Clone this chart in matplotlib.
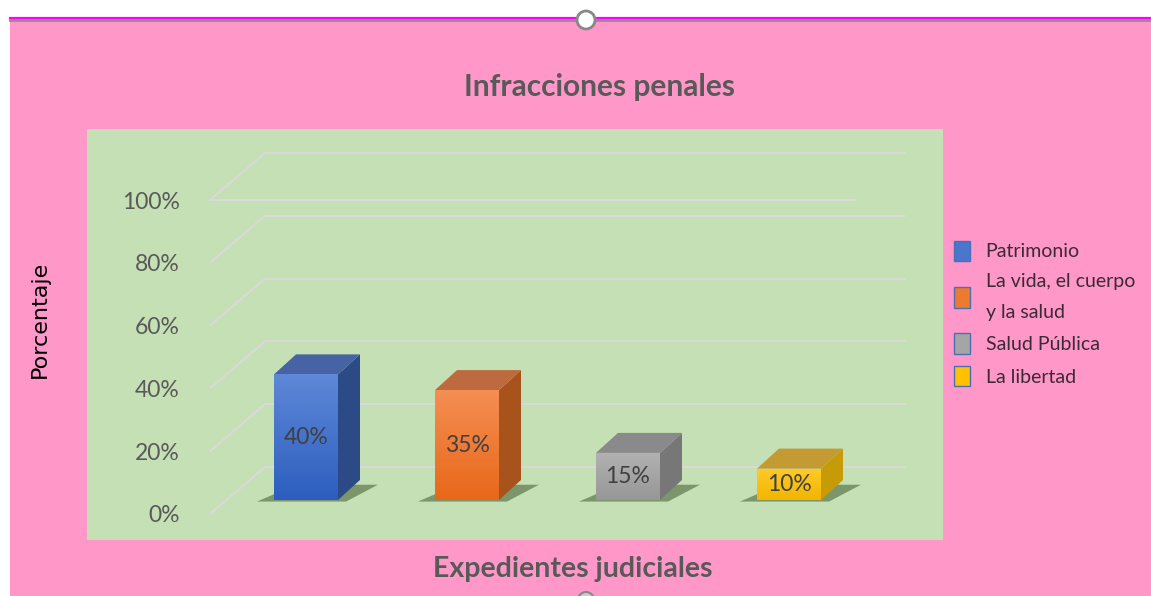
import matplotlib
matplotlib.use("Agg")
import numpy as np
import matplotlib.pyplot as plt
from matplotlib.patches import Polygon, Rectangle, Patch, Ellipse
from matplotlib.lines import Line2D
from matplotlib.colors import LinearSegmentedColormap

# ---------------- data ----------------
categories = ["Patrimonio", "La vida, el cuerpo\ny la salud", "Salud Pública", "La libertad"]
values = [40, 35, 15, 10]
value_labels = ["40%", "35%", "15%", "10%"]
ticks = [0, 20, 40, 60, 80, 100]
tick_labels = ["0%", "20%", "40%", "60%", "80%", "100%"]

front_cols = ["#4a76cc", "#ee7a30", "#a5a5a5", "#ffc000"]
front_top = ["#5e88d8", "#f58e52", "#b2b2b2", "#ffca2a"]
front_bot = ["#2d5ebf", "#e8681a", "#979797", "#f2b600"]
side_cols = ["#2c4a86", "#a9531c", "#777777", "#c79a07"]
top_cols = ["#4763a3", "#bd6a3e", "#8a8a8a", "#c49a32"]

PINK = "#ff98c8"
GREEN = "#c5e0b4"
GRID = "#d9d9d9"
TXT = "#595959"
FONT = "Lato"

W, H = 1151, 596
fig = plt.figure(figsize=(W / 100, H / 100), dpi=100)
fig.patch.set_facecolor("white")

def fx(px):
    return px / W

def fy(py):
    return 1 - py / H

# pink background + top border
fig.patches.append(Rectangle((fx(10), 0), fx(W - 10), fy(19), transform=fig.transFigure,
                             facecolor=PINK, edgecolor="none", zorder=0))
fig.lines.append(Line2D([fx(10), 1], [fy(20), fy(20)], transform=fig.transFigure,
                        color="#9a8a95", lw=2.0, zorder=1))
fig.lines.append(Line2D([fx(10), 1], [fy(17.5), fy(17.5)], transform=fig.transFigure,
                        color="#ff00ff", lw=1.6, zorder=2))
# green plot area
fig.patches.append(Rectangle((fx(87), fy(540)), fx(943 - 87), (540 - 129) / H,
                             transform=fig.transFigure, facecolor=GREEN,
                             edgecolor="none", zorder=1))

# axes: y data = front plane percent; x data = category index (bar centre)
ax_l, ax_r, ax_t, ax_b = 195, 943, 129, 540
ax = fig.add_axes([fx(ax_l), fy(ax_b), fx(ax_r - ax_l), (ax_b - ax_t) / H])
ax.set_zorder(5)
ax.patch.set_alpha(0)
py_per = 3.14      # pixels per percent
px_per = 161.0     # pixels per category
for s in ax.spines.values():
    s.set_visible(False)
ax.set_xticks([])
ax.set_yticks(ticks)
ax.set_yticklabels(tick_labels, fontsize=16.5, color=TXT, family=FONT)
ax.tick_params(axis="y", length=0, pad=11)

# 3D-ish gridlines
xf = (210 - 306) / px_per
xb = (265 - 306) / px_per
xe = (905 - 306) / px_per
xfe = (855 - 306) / px_per
back_dy = 47 / py_per
for v in ticks:
    ax.plot([xf, xb], [v, v + back_dy], color=GRID, lw=1.5, zorder=1, solid_capstyle="butt")
    ax.plot([xb, xe], [v + back_dy, v + back_dy], color=GRID, lw=1.5, zorder=1)
ax.plot([xf, xfe], [100, 100], color=GRID, lw=1.5, zorder=1)

# bars
w = 64 / px_per
lift = 14 / py_per
ddx = 22 / px_per
ddy = 20 / py_per
x = list(range(len(values)))
bars = ax.bar(x, values, width=w, bottom=lift, color=front_cols, edgecolor="none", zorder=4)
grad = np.linspace(1, 0, 64).reshape(-1, 1)
for i, (b, v) in enumerate(zip(bars, values)):
    L = b.get_x()
    R = L + b.get_width()
    top = lift + v
    # vertical shading of the front face
    cm = LinearSegmentedColormap.from_list("f%d" % i, [front_bot[i], front_top[i]])
    im = ax.imshow(grad, cmap=cm, extent=(L, R, lift, top), aspect="auto",
                   zorder=4.5, interpolation="bilinear")
    im.set_clip_path(b)
    # shadow
    ax.add_patch(Polygon([(L - 17 / px_per, lift - 0.5), (R + 8 / px_per, lift - 0.5),
                          (R + ddx + 18 / px_per, lift + ddy - 1.5), (L + ddx, lift + ddy - 1.5)],
                         closed=True, facecolor="#3f5a30", alpha=0.55, edgecolor="none", zorder=2))
    # side face
    ax.add_patch(Polygon([(R, lift), (R + ddx, lift + ddy), (R + ddx, top + ddy), (R, top)],
                         closed=True, facecolor=side_cols[i], edgecolor="none", zorder=3))
    # top face
    ax.add_patch(Polygon([(L, top), (L + ddx, top + ddy), (R + ddx, top + ddy), (R, top)],
                         closed=True, facecolor=top_cols[i], edgecolor="none", zorder=3))
    ax.text(i, lift + v / 2, value_labels[i], ha="center", va="center", fontsize=16.5,
            color="#404040", family=FONT, zorder=6)
ax.set_xlim(-(306 - ax_l) / px_per, (ax_r - 306) / px_per)
ax.set_ylim(-(ax_b - 514) / py_per, 100 + (200 - ax_t) / py_per)

# titles
fig.text(fx(599), fy(87), "Infracciones penales", ha="center", va="center", fontsize=21.5,
         fontweight="bold", color=TXT, family=FONT)
fig.text(fx(573), fy(569), "Expedientes judiciales", ha="center", va="center", fontsize=20.5,
         fontweight="bold", color=TXT, family=FONT)
fig.text(fx(40), fy(319), "Porcentaje", ha="center", va="center", rotation=90, fontsize=16,
         color="black", family="DejaVu Sans")

# legend
handles = [Patch(facecolor=c, edgecolor="#4a6fb5", linewidth=1.0) for c in front_cols]
leg = fig.legend(handles, categories, loc="upper left", bbox_to_anchor=(fx(936), fy(223)),
                 frameon=False, handlelength=0.85, handleheight=1.25,
                 handletextpad=0.8, labelspacing=0.62, prop={"family": FONT, "size": 14})
for t in leg.get_texts():
    t.set_linespacing(2.0)
    t.set_color("#3a2a35")

# resize handles
fig.patches.append(Ellipse((fx(586), fy(20)), 18 / W, 18 / H, transform=fig.transFigure,
                           facecolor="white", edgecolor="#888888", lw=2, zorder=3))
fig.patches.append(Ellipse((fx(586), fy(600)), 16 / W, 16 / H, transform=fig.transFigure,
                           facecolor="#cccccc", edgecolor="#888888", lw=1.5, zorder=3))

fig.savefig("out.png", dpi=100, facecolor=fig.get_facecolor())
